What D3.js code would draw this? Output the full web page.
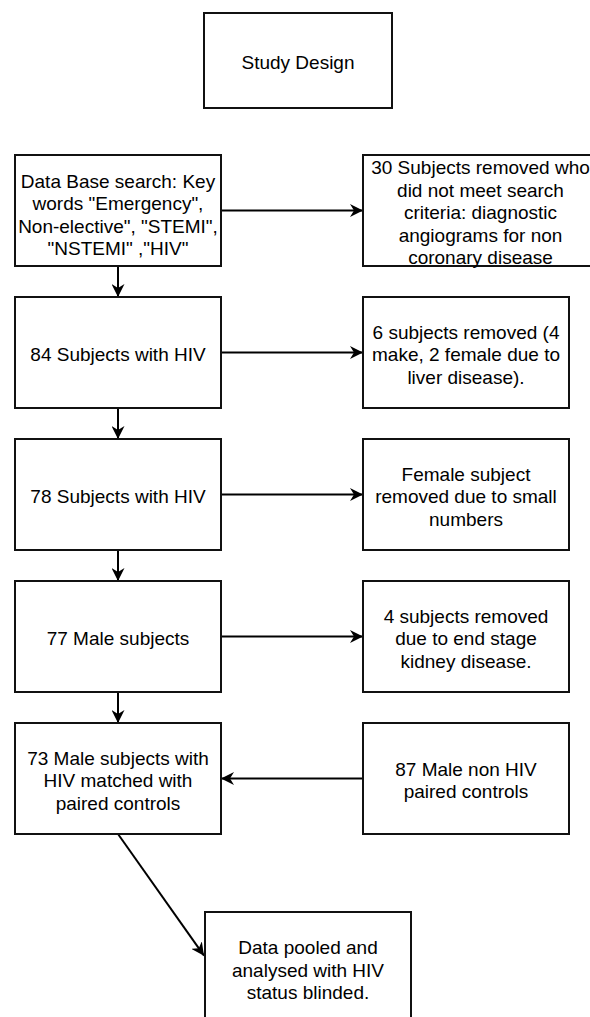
<!DOCTYPE html>
<html>
<head>
<meta charset="utf-8">
<script src="https://cdn.jsdelivr.net/npm/d3@7"></script>
<style>
  html, body { margin: 0; padding: 0; background: #fff; }
  svg { display: block; }
  text { font-family: "Liberation Sans", Arial, sans-serif; font-size: 19px; fill: #000; }
</style>
</head>
<body>
<svg id="chart" width="590" height="1017"></svg>
<script>
// ---- Data ----
const titleLines = ["Study Design"];
const mainSteps = [
  ["Data Base search: Key", "words \"Emergency\",", "Non-elective\", \"STEMI\",", "\"NSTEMI\" ,\"HIV\""],
  ["84 Subjects with HIV"],
  ["78 Subjects with HIV"],
  ["77 Male subjects"],
  ["73 Male subjects with", "HIV matched with", "paired controls"]
];
const sideSteps = [
  ["30 Subjects removed who", "did not meet search", "criteria: diagnostic", "angiograms for non", "coronary disease"],
  ["6 subjects removed (4", "make, 2 female due to", "liver disease)."],
  ["Female subject", "removed due to small", "numbers"],
  ["4 subjects removed", "due to end stage", "kidney disease."],
  ["87 Male non HIV", "paired controls"]
];
// side box flows out of main step (removed) except last, which flows into main step
const sideDirection = ["out", "out", "out", "out", "in"];
const finalLines = ["Data pooled and", "analysed with HIV", "status blinded."];

// ---- Layout ----
const svg = d3.select("#chart");
const rowIdx = d3.range(mainSteps.length);
const yRow = d3.scaleLinear().domain([0, mainSteps.length - 1]).range([155, 723]);
const xCol = d3.scaleOrdinal().domain(["main", "side"]).range([15, 363]);
const boxW = 206, boxH = 111;
const lineH = 22.5;

const defs = svg.append("defs");
defs.append("marker")
  .attr("id", "arrow")
  .attr("markerUnits", "userSpaceOnUse")
  .attr("markerWidth", 14).attr("markerHeight", 13)
  .attr("refX", 13).attr("refY", 6.5)
  .attr("orient", "auto")
  .append("path")
  .attr("d", "M0,0 L13,6.5 L0,13 L4,6.5 Z")
  .attr("fill", "#000");

function drawBox(x, y, w, h, lines, dy) {
  const g = svg.append("g");
  g.append("rect")
    .attr("x", x).attr("y", y).attr("width", w).attr("height", h)
    .attr("fill", "#fff").attr("stroke", "#111").attr("stroke-width", 2);
  const cy = y + h / 2 + (dy || 2);
  const n = lines.length;
  g.selectAll("text").data(lines).join("text")
    .attr("x", x + w / 2)
    .attr("y", (d, i) => cy + (i - (n - 1) / 2) * lineH + 6.7)
    .attr("text-anchor", "middle")
    .text(d => d);
}

function drawArrow(x1, y1, x2, y2) {
  svg.append("line")
    .attr("x1", x1).attr("y1", y1).attr("x2", x2).attr("y2", y2)
    .attr("stroke", "#000").attr("stroke-width", 2)
    .attr("marker-end", "url(#arrow)");
}

// Title
drawBox(204, 13, 188, 95, titleLines, 0);

// Arrows first (under boxes)
const mainCx = xCol("main") + boxW / 2;
rowIdx.forEach(i => {
  const cy = yRow(i) + boxH / 2;
  if (sideDirection[i] === "out") {
    drawArrow(xCol("main") + boxW, cy, xCol("side"), cy);
  } else {
    drawArrow(xCol("side"), cy, xCol("main") + boxW, cy);
  }
  if (i < mainSteps.length - 1) {
    drawArrow(mainCx, yRow(i) + boxH, mainCx, yRow(i + 1));
  }
});

// Final box
const finX = 205, finY = 912, finW = 206, finH = 112;
drawArrow(mainCx, yRow(mainSteps.length - 1) + boxH, finX - 1, finY + finH * 0.39);

// Boxes
rowIdx.forEach(i => {
  drawBox(xCol("main"), yRow(i), boxW, boxH, mainSteps[i], i === 0 ? 4.5 : 2);
  const w = i === 0 ? 235 : boxW;
  drawBox(xCol("side"), yRow(i), w, boxH, sideSteps[i], 2);
});
drawBox(finX, finY, finW, finH, finalLines, 0);
</script>
</body>
</html>
